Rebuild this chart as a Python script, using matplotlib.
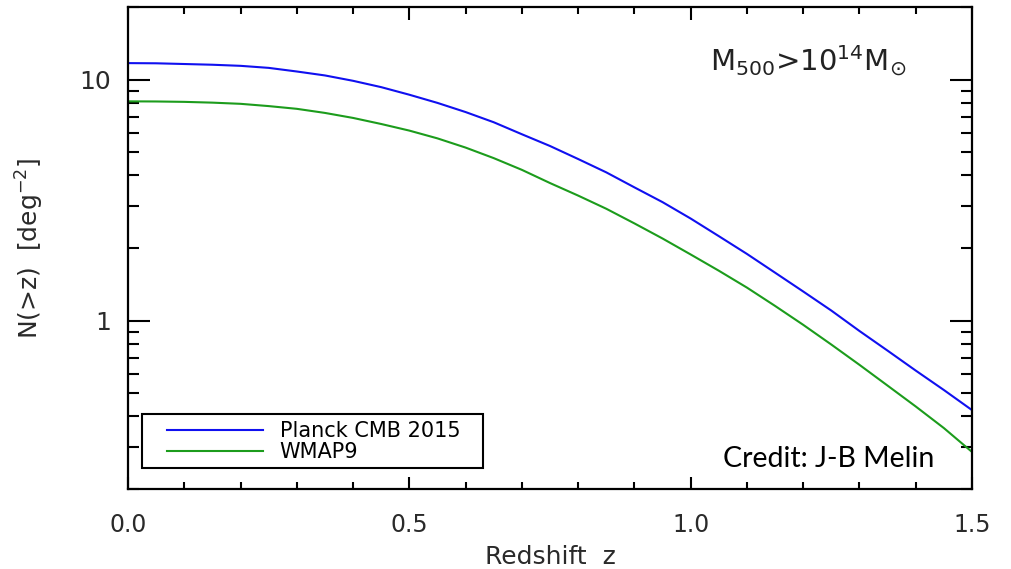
import matplotlib
matplotlib.use("Agg")
import matplotlib.pyplot as plt
from matplotlib.patches import Rectangle
from matplotlib.ticker import LogLocator, NullFormatter, FixedLocator, MultipleLocator

z = [0.0, 0.05, 0.1, 0.15, 0.2, 0.25, 0.3, 0.35, 0.4, 0.45, 0.5, 0.55, 0.6, 0.65, 0.7, 0.75,
     0.8, 0.85, 0.9, 0.95, 1.0, 1.05, 1.1, 1.15, 1.2, 1.25, 1.3, 1.35, 1.4, 1.45, 1.5]
planck = [11.7, 11.68, 11.6, 11.52, 11.4, 11.18, 10.8, 10.4, 9.88, 9.3, 8.65, 8.0, 7.33, 6.65, 5.93, 5.3,
          4.68, 4.12, 3.57, 3.1, 2.65, 2.24, 1.89, 1.58, 1.32, 1.10, 0.905, 0.75, 0.62, 0.515, 0.425]
wmap9 = [8.12, 8.11, 8.08, 8.02, 7.93, 7.76, 7.56, 7.27, 6.93, 6.54, 6.14, 5.70, 5.22, 4.72, 4.22, 3.72,
         3.30, 2.91, 2.53, 2.19, 1.88, 1.61, 1.37, 1.15, 0.96, 0.795, 0.655, 0.537, 0.44, 0.358, 0.285]
series_labels = ["Planck CMB 2015", "WMAP9"]
x_ticks = [0.0, 0.5, 1.0, 1.5]
x_ticklabels = ["0.0", "0.5", "1.0", "1.5"]
y_ticks = [1, 10]
y_ticklabels = ["1", "10"]

plt.rcParams['font.family'] = ['DejaVu Sans']

fig = plt.figure(figsize=(10.11, 5.69), dpi=100)
ax = fig.add_axes([128/1011, 80/569, (972-128)/1011, (489-7)/569])

ax.plot(z, planck, color='#1010f0', lw=1.5, label=series_labels[0])
ax.plot(z, wmap9, color='#1c9c1c', lw=1.5, label=series_labels[1])

ax.set_yscale('log')
ax.set_xlim(0, 1.5)
ax.set_ylim(0.2, 20)

ax.xaxis.set_major_locator(FixedLocator(x_ticks))
ax.set_xticklabels(x_ticklabels)
ax.xaxis.set_minor_locator(MultipleLocator(0.1))
ax.yaxis.set_major_locator(FixedLocator(y_ticks))
ax.set_yticklabels(y_ticklabels)
ax.yaxis.set_minor_locator(LogLocator(base=10, subs=range(2, 10)))
ax.yaxis.set_minor_formatter(NullFormatter())

for s in ax.spines.values():
    s.set_linewidth(1.6)

ax.tick_params(axis='both', which='both', direction='in', top=True, right=True, width=1.5, colors='black')
ax.tick_params(axis='y', which='major', length=16, labelsize=18, pad=12)
ax.tick_params(axis='y', which='minor', length=8)
ax.tick_params(axis='x', which='major', length=9, labelsize=17, pad=17)
ax.tick_params(axis='x', which='minor', length=5)
for lab in ax.get_xticklabels() + ax.get_yticklabels():
    lab.set_color('#2a2a2a')

ax.set_xlabel('Redshift  z', fontsize=18, color='#2a2a2a', labelpad=6)
ax.set_ylabel(r'N(>z)  [deg$^{-2}$]', fontsize=18, color='#2a2a2a', labelpad=24)

ax.text(0.69, 0.868, r'M$_{500}$>10$^{14}$M$_{\odot}$', transform=ax.transAxes,
        fontsize=21, color='#222222')
ax.text(0.705, 0.045, 'Credit: J-B Melin', transform=ax.transAxes,
        fontsize=20.5, color='black', family=['Lato', 'DejaVu Sans'])

# legend frame
ax.add_patch(Rectangle((14/844, 21/482), 341/844, 54/482, transform=ax.transAxes,
                       fill=False, edgecolor='black', linewidth=1.5, zorder=5))
leg = ax.legend(loc='upper left', bbox_to_anchor=(39/844, 68/482),
                frameon=False, fontsize=15, handlelength=4.6, borderpad=0,
                labelspacing=0.05, handletextpad=0.8, borderaxespad=0)

fig.savefig('out.png', dpi=100, facecolor='white')
